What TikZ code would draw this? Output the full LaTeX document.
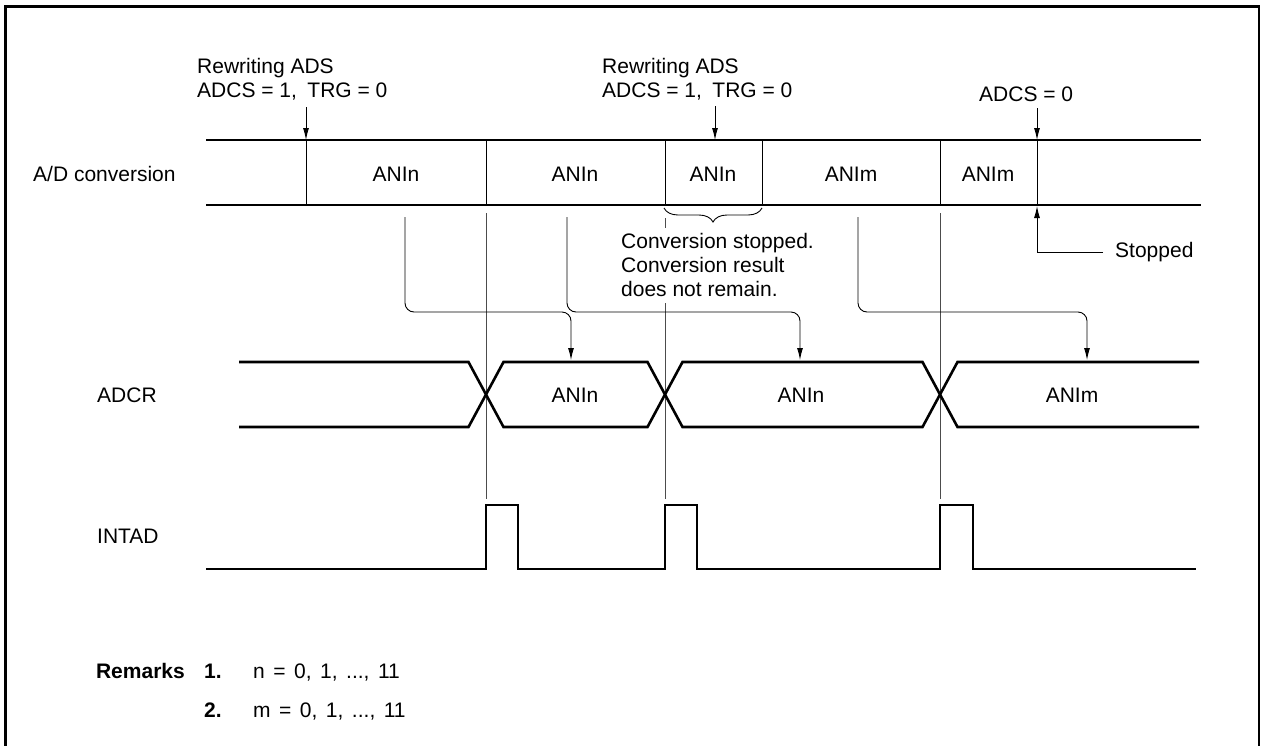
\documentclass[tikz,border=0pt]{standalone}
\usepackage{fontspec}
\setmainfont{Liberation Sans}
\usetikzlibrary{arrows.meta,decorations.pathreplacing}
\begin{document}
\begin{tikzpicture}[x=1pt,y=-1pt,
  sig/.style={line width=2.6pt, line join=miter},
  thinln/.style={line width=0.9pt},
  guide/.style={line width=0.9pt, black!70},
  arr/.style={line width=0.9pt, -{Latex[length=12pt,width=6pt]}},
  conn/.style={line width=0.9pt, rounded corners=9pt, -{Latex[length=12pt,width=6pt]}},
  lbl/.style={font=\fontsize{21}{24}\selectfont, inner sep=0pt, anchor=base west},
  clbl/.style={font=\fontsize{21}{24}\selectfont, inner sep=0pt, anchor=base}]
\useasboundingbox (0,0) rectangle (1261,745);
% frame
\draw[line width=2.6pt] (5.5,760) -- (5.5,6.5) -- (1259,6.5) -- (1259,760);

% row labels
\node[lbl] (lad) at (33,181) {A/D conversion};
\node[lbl] (ladcr) at (97,402) {ADCR};
\node[lbl] (lint) at (97,543) {INTAD};

% A/D conversion row
\draw[sig] (206,140) -- (1201,140);
\draw[sig] (206,205) -- (1201,205);
\foreach \x in {306,486,665,762,940,1037}
  \draw[thinln] (\x,140) -- (\x,205);
\node[clbl] (c1) at (396,181) {ANIn};
\node[clbl] (c2) at (575,181) {ANIn};
\node[clbl] (c3) at (713,181) {ANIn};
\node[clbl] (c4) at (851,181) {ANIm};
\node[clbl] (c5) at (988,181) {ANIm};

% annotations above
\node[lbl] (r1a) at (197,73) {Rewriting ADS};
\node[lbl] (r1b) at (197,97) {ADCS = 1,\enspace TRG = 0};
\node[lbl] (r2a) at (602,73) {Rewriting ADS};
\node[lbl] (r2b) at (602,97) {ADCS = 1,\enspace TRG = 0};
\node[lbl] (r3) at (979,101) {ADCS = 0};
\coordinate (a1) at (306,107);
\coordinate (a2) at (715,106);
\coordinate (a3) at (1037,108);
\draw[arr] (a1) -- (306,140);
\draw[arr] (a2) -- (715,140);
\draw[arr] (a3) -- (1037,140);

% brace and note
\draw[thinln, decorate, decoration={brace, mirror, amplitude=14pt}] (664,208) -- (762,208);
\node[lbl] (n1) at (621,248.5) {Conversion stopped.};
\node[lbl] (n2) at (621,272) {Conversion result};
\node[lbl] (n3) at (621,296) {does not remain.};

% stopped
\node[lbl] (stp) at (1115,257) {Stopped};
\coordinate (s0) at (1103,252);
\draw[arr] (s0) -| (1037,206);

% guide lines
\draw[guide] (486,213) -- (486,499);
\draw[guide] (665,218) -- (665,228);
\draw[guide] (665,303) -- (665,499);
\draw[guide] (940,213) -- (940,499);

% transfer arrows
\draw[conn] (405,217) |- (571,312) -- (571,360);
\draw[conn] (567,217) |- (800,312) -- (800,360);
\draw[conn] (858,217) |- (1087,312) -- (1087,360);

% ADCR row
\draw[sig] (239,362) -- (468.5,362) -- (503.5,427) -- (647.5,427) -- (682.5,362) -- (922.5,362) -- (957.5,427) -- (1199,427);
\draw[sig] (239,427) -- (468.5,427) -- (503.5,362) -- (647.5,362) -- (682.5,427) -- (922.5,427) -- (957.5,362) -- (1199,362);
\node[clbl] (d1) at (575,402) {ANIn};
\node[clbl] (d2) at (801,402) {ANIn};
\node[clbl] (d3) at (1072,402) {ANIm};

% INTAD row
\draw[sig] (206,569) -- (486,569) -- (486,505) -- (518,505) -- (518,569) -- (665,569) -- (665,505) -- (697,505) -- (697,569) -- (940,569) -- (940,505) -- (973,505) -- (973,569) -- (1196,569);

% remarks
\node[lbl, anchor=base east] (rm) at (185,678) {\textbf{Remarks}};
\node[lbl] (k1) at (204,678) {\textbf{1.}};
\node[lbl] (t1) at (253,678) {\spaceskip=8.5pt n = 0, 1, ..., 11};
\node[lbl] (k2) at (204,717) {\textbf{2.}};
\node[lbl] (t2) at (253,717) {\spaceskip=8.5pt m = 0, 1, ..., 11};
\end{tikzpicture}
\end{document}
